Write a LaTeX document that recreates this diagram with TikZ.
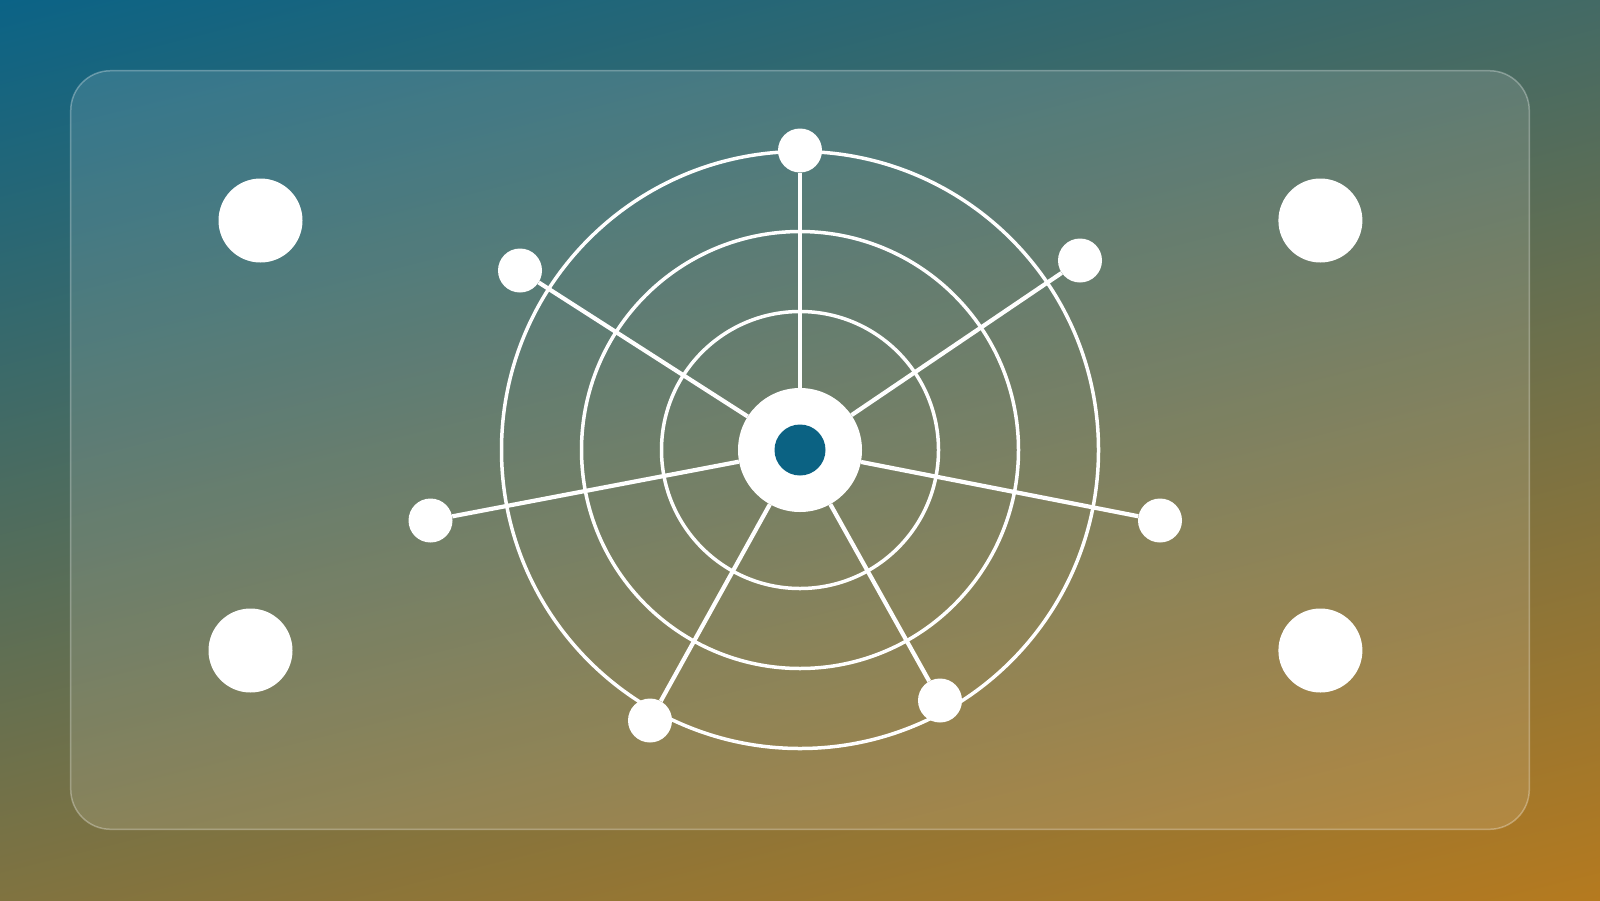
\documentclass[tikz,border=0pt]{standalone}
\usetikzlibrary{shadings}
\definecolor{bgTL}{HTML}{0B6386}
\definecolor{bgTR}{HTML}{436A65}
\definecolor{bgBL}{HTML}{807340}
\definecolor{bgBR}{HTML}{B57A1F}
\definecolor{hubblue}{HTML}{0B6283}
\begin{document}
\begin{tikzpicture}[x=1pt,y=-1pt,
  sat/.style={circle,fill=white,inner sep=0pt,minimum size=44pt},
  big/.style={circle,fill=white,inner sep=0pt,minimum size=84pt},
  ring/.style={draw=white,line width=3.5pt},
  spoke/.style={draw=white,line width=4.2pt},
  card/.style={fill=white,fill opacity=0.12,draw=white,draw opacity=0.3,line width=1.5pt,rounded corners=40pt}]
\useasboundingbox (0,0) rectangle (1600,900);
\shade[upper left=bgTL,upper right=bgTR,lower left=bgBL,lower right=bgBR] (0,0) rectangle (1600,900);
\path[card] (70.7,70.7) rectangle (1529.3,829.3);
\coordinate (c) at (800,450);
\draw[ring] (c) circle[radius=138.5];
\draw[ring] (c) circle[radius=218.5];
\draw[ring] (c) circle[radius=298.5];
\node[circle,fill=white,inner sep=0pt,minimum size=124pt] (hub) at (c) {};
\node[circle,fill=hubblue,inner sep=0pt,minimum size=51pt] (core) at (c) {};
\node[sat] (n1) at (800,150.5) {};
\node[sat] (n2) at (520,270.5) {};
\node[sat] (n3) at (1080,260.5) {};
\node[sat] (n4) at (430.5,520.5) {};
\node[sat] (n5) at (1160,520.5) {};
\node[sat] (n6) at (650,720.5) {};
\node[sat] (n7) at (940,700.5) {};
\node[big] (k1) at (260.5,220.5) {};
\node[big] (k2) at (1320.4,220.5) {};
\node[big] (k3) at (250.5,650.5) {};
\node[big] (k4) at (1320.4,650.5) {};
\foreach \n in {n1,n2,n3,n4,n5,n6,n7} \draw[spoke] (hub) -- (\n);
\end{tikzpicture}
\end{document}
